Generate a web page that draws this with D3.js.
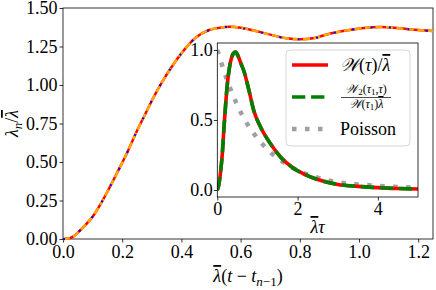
<!DOCTYPE html>
<html><head><meta charset="utf-8">
<script src="https://cdn.jsdelivr.net/npm/d3@7"></script>
</head><body style="margin:0">
<svg id="c" width="436" height="290"></svg>
<script>
// ---- main panel data: lambda_n / lambda-bar vs lambda-bar (t - t_{n-1})
const mainT = [0, 0.02, 0.034, 0.057, 0.08, 0.1, 0.134, 0.164, 0.193, 0.221, 0.247, 0.275, 0.303, 0.335, 0.368, 0.406, 0.448, 0.494, 0.53, 0.564, 0.6, 0.63, 0.69, 0.755, 0.8, 0.85, 0.885, 0.946, 1.008, 1.075, 1.137, 1.2, 1.25];
const mainLambda = [0, 0.004, 0.015, 0.054, 0.1, 0.145, 0.251, 0.359, 0.468, 0.578, 0.69, 0.80, 0.909, 1.02, 1.12, 1.22, 1.307, 1.357, 1.372, 1.378, 1.372, 1.36, 1.332, 1.303, 1.297, 1.305, 1.325, 1.35, 1.368, 1.377, 1.368, 1.357, 1.35];
const mainXTicks = [0, 0.2, 0.4, 0.6, 0.8, 1.0, 1.2];
const mainYTicks = [0, 0.25, 0.5, 0.75, 1.0, 1.25, 1.5];

// ---- inset data
const insetTau = [0, 0.04, 0.085, 0.125, 0.167, 0.21, 0.25, 0.3, 0.35, 0.4, 0.456, 0.52, 0.6, 0.66, 0.79, 0.91, 1.08, 1.33, 1.58, 1.9, 2.16, 2.5, 3.0, 3.5, 4.0, 4.5, 5.0];
const insetW = [0, 0.04, 0.138, 0.26, 0.448, 0.62, 0.757, 0.87, 0.94, 0.975, 0.985, 0.955, 0.895, 0.852, 0.71, 0.566, 0.448, 0.329, 0.234, 0.155, 0.114, 0.075, 0.04, 0.026, 0.017, 0.011, 0.007];
const insetW2 = [0, 0.04, 0.138, 0.26, 0.448, 0.62, 0.757, 0.87, 0.94, 0.975, 0.985, 0.955, 0.895, 0.852, 0.71, 0.566, 0.448, 0.329, 0.234, 0.155, 0.114, 0.075, 0.04, 0.026, 0.017, 0.011, 0.007];
const poissonTau = [0, 0.25, 0.5, 0.75, 1.0, 1.25, 1.5, 1.75, 2.0, 2.5, 3.0, 3.5, 4.0, 4.5, 5.0];
const poissonP = [1.0, 0.78, 0.605, 0.47, 0.37, 0.29, 0.228, 0.178, 0.14, 0.088, 0.055, 0.04, 0.03, 0.022, 0.016];
const insetXTicks = [0, 2, 4];
const insetYTicks = [0, 0.5, 1.0];

const svg = d3.select("#c");
const FS = 18;
const FF = "Liberation Serif";

function txt(sel, xx, yy, size, anchor) {
  return sel.append("text").attr("x", xx).attr("y", yy).attr("font-family", FF).attr("font-size", size)
    .attr("text-anchor", anchor || "start").attr("fill", "#000");
}
function bar(t) { return t.attr("text-decoration", "overline"); }

// ---------------- main axes
const x = d3.scaleLinear().domain([0, 1.25]).range([63, 433]);
const y = d3.scaleLinear().domain([0, 1.5]).range([239, 8]);

const gx = svg.append("g").attr("transform", `translate(0,${y(0)})`)
  .call(d3.axisBottom(x).tickValues(mainXTicks).tickFormat(d3.format(".1f")).tickSizeOuter(0).tickSize(3.5).tickPadding(3));
const gy = svg.append("g").attr("transform", `translate(${x(0)},0)`)
  .call(d3.axisLeft(y).tickValues(mainYTicks).tickFormat(d3.format(".2f")).tickSizeOuter(0).tickSize(3.5).tickPadding(2));
[gx, gy].forEach(g => {
  g.attr("font-family", FF).attr("font-size", FS);
  g.select(".domain").remove();
  g.selectAll("line").attr("stroke", "#000").attr("stroke-width", 0.8);
  g.selectAll("text").attr("fill", "#000");
});
// frame
svg.append("rect").attr("x", x(0)).attr("y", y(1.5)).attr("width", x(1.25) - x(0)).attr("height", y(0) - y(1.5))
  .attr("fill", "none").attr("stroke", "#000").attr("stroke-width", 0.8);

const mainData = mainT.map((t, i) => [t, mainLambda[i]]);
const mline = d3.line().x(d => x(d[0])).y(d => y(d[1])).curve(d3.curveMonotoneX);
svg.append("path").attr("d", mline(mainData)).attr("fill", "none").attr("stroke", "red").attr("stroke-width", 2.5);
svg.append("path").attr("d", mline(mainData)).attr("fill", "none").attr("stroke", "orange").attr("stroke-width", 2.5).attr("stroke-dasharray", "7,3.5");
svg.append("path").attr("d", mline(mainData)).attr("fill", "none").attr("stroke", "blue").attr("stroke-width", 2).attr("stroke-dasharray", "2,16.5");

// axis labels
const xl = txt(svg, 248, 282, FS, "middle");
bar(xl.append("tspan").attr("font-style", "italic")).text("λ");
xl.append("tspan").text("(");
xl.append("tspan").attr("font-style", "italic").text("t");
xl.append("tspan").text(" − ");
xl.append("tspan").attr("font-style", "italic").text("t");
xl.append("tspan").attr("font-style", "italic").attr("dy", 4).attr("font-size", 13).text("n");
xl.append("tspan").attr("font-size", 13).text("−1");
xl.append("tspan").attr("dy", -4).text(")");

const yl = txt(svg, 0, 0, FS, "middle").attr("transform", "translate(18,123.5) rotate(-90)");
yl.append("tspan").attr("font-style", "italic").text("λ");
yl.append("tspan").attr("font-style", "italic").attr("dy", 4).attr("font-size", 13).text("n");
yl.append("tspan").attr("dy", -4).text("/");
bar(yl.append("tspan").attr("font-style", "italic")).text("λ");

// ---------------- inset
const ix = d3.scaleLinear().domain([0, 5]).range([217.3, 418]);
const iy = d3.scaleLinear().domain([-0.05, 1.05]).range([197, 43]);
svg.append("rect").attr("x", ix(0)).attr("y", iy(1.05)).attr("width", ix(5) - ix(0)).attr("height", iy(-0.05) - iy(1.05))
  .attr("fill", "#fff");
svg.append("clipPath").attr("id", "ic").append("rect").attr("x", ix(0)).attr("y", iy(1.05)).attr("width", ix(5) - ix(0)).attr("height", iy(-0.05) - iy(1.05));

const igx = svg.append("g").attr("transform", `translate(0,${iy(-0.05)})`)
  .call(d3.axisBottom(ix).tickValues(insetXTicks).tickFormat(d3.format("d")).tickSizeOuter(0).tickSize(3.5).tickPadding(2));
const igy = svg.append("g").attr("transform", `translate(${ix(0)},0)`)
  .call(d3.axisLeft(iy).tickValues(insetYTicks).tickFormat(d3.format(".1f")).tickSizeOuter(0).tickSize(3.5).tickPadding(1));
[igx, igy].forEach(g => {
  g.attr("font-family", FF).attr("font-size", FS);
  g.select(".domain").remove();
  g.selectAll("line").attr("stroke", "#000").attr("stroke-width", 0.8);
  g.selectAll("text").attr("fill", "#000");
});

const il = d3.line().x(d => ix(d[0])).y(d => iy(d[1])).curve(d3.curveMonotoneX);
const ig = svg.append("g").attr("clip-path", "url(#ic)");
ig.append("path").attr("d", il(poissonTau.map((t, i) => [t, poissonP[i]]))).attr("fill", "none")
  .attr("stroke", "#a0a0a0").attr("stroke-width", 4.5).attr("stroke-dasharray", "4.5,8.5");
ig.append("path").attr("d", il(insetTau.map((t, i) => [t, insetW[i]]))).attr("fill", "none")
  .attr("stroke", "red").attr("stroke-width", 3.6);
ig.append("path").attr("d", il(insetTau.map((t, i) => [t, insetW2[i]]))).attr("fill", "none")
  .attr("stroke", "green").attr("stroke-width", 3.6).attr("stroke-dasharray", "13.3,5.8");

svg.append("rect").attr("x", ix(0)).attr("y", iy(1.05)).attr("width", ix(5) - ix(0)).attr("height", iy(-0.05) - iy(1.05))
  .attr("fill", "none").attr("stroke", "#000").attr("stroke-width", 0.8);

const ixl = txt(svg, (ix(0) + ix(5)) / 2, 233, FS, "middle");
bar(ixl.append("tspan").attr("font-style", "italic")).text("λ");
ixl.append("tspan").attr("font-style", "italic").text("τ");

// legend
const lg = svg.append("g");
lg.append("rect").attr("x", 286).attr("y", 50).attr("width", 124).attr("height", 96).attr("rx", 4)
  .attr("fill", "#fff").attr("fill-opacity", 0.8).attr("stroke", "#d5d5d5").attr("stroke-width", 1);
lg.append("line").attr("x1", 292).attr("x2", 328).attr("y1", 65).attr("y2", 65).attr("stroke", "red").attr("stroke-width", 3.6);
lg.append("line").attr("x1", 292).attr("x2", 328).attr("y1", 97).attr("y2", 97).attr("stroke", "green").attr("stroke-width", 3.6).attr("stroke-dasharray", "13.3,5.8");
lg.append("line").attr("x1", 292).attr("x2", 328).attr("y1", 129).attr("y2", 129).attr("stroke", "#a0a0a0").attr("stroke-width", 4.5).attr("stroke-dasharray", "4.5,8.5");

const t1 = txt(lg, 340, 71, FS);
t1.append("tspan").attr("font-style", "italic").text("𝒲");
t1.append("tspan").text("(");
t1.append("tspan").attr("font-style", "italic").text("τ");
t1.append("tspan").text(")/");
bar(t1.append("tspan").attr("font-style", "italic")).text("λ");

const num = txt(lg, 366, 93, 12, "middle");
num.append("tspan").attr("font-style", "italic").text("𝒲");
num.append("tspan").attr("font-size", 9).attr("dy", 2).text("2");
num.append("tspan").attr("dy", -2).text("(");
num.append("tspan").attr("font-style", "italic").text("τ");
num.append("tspan").attr("font-size", 9).attr("dy", 2).text("1");
num.append("tspan").attr("dy", -2).text(",");
num.append("tspan").attr("font-style", "italic").text("τ");
num.append("tspan").text(")");
lg.append("line").attr("x1", 341).attr("x2", 391).attr("y1", 97.5).attr("y2", 97.5).attr("stroke", "#000").attr("stroke-width", 0.7);
const den = txt(lg, 366, 108, 12, "middle");
den.append("tspan").attr("font-style", "italic").text("𝒲");
den.append("tspan").text("(");
den.append("tspan").attr("font-style", "italic").text("τ");
den.append("tspan").attr("font-size", 9).attr("dy", 2).text("1");
den.append("tspan").attr("dy", -2).text(")");
bar(den.append("tspan").attr("font-style", "italic")).text("λ");

txt(lg, 340, 135, FS).text("Poisson");
</script></body></html>
